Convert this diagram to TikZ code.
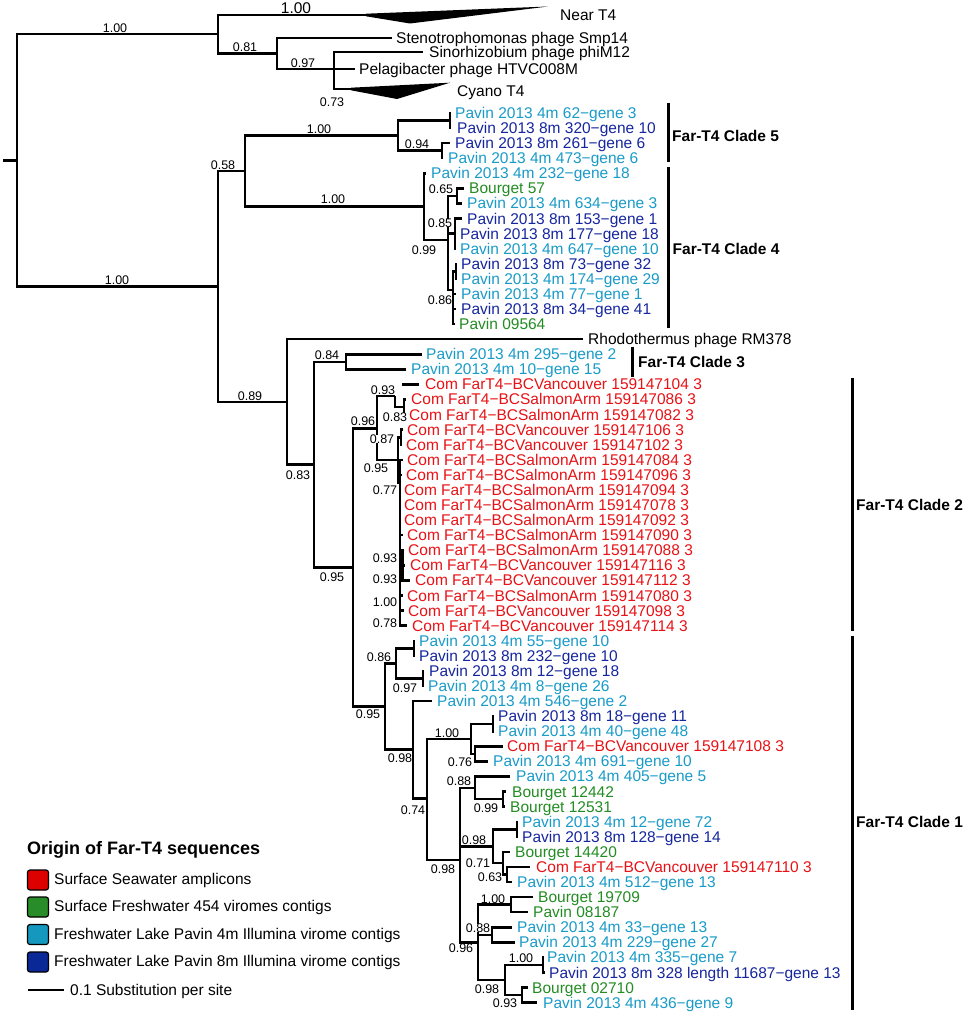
\documentclass[tikz,border=0pt]{standalone}
\usepackage{fontspec}
\setmainfont{Liberation Sans}
\definecolor{cy}{RGB}{25,155,200}
\definecolor{bl}{RGB}{22,38,158}
\definecolor{gr}{RGB}{35,140,35}
\definecolor{rd}{RGB}{232,18,22}
\definecolor{lrd}{RGB}{221,0,0}
\definecolor{lgr}{RGB}{40,140,40}
\definecolor{lcy}{RGB}{20,152,190}
\definecolor{lbl}{RGB}{10,40,150}
\tikzset{
 branch/.style={line width=2.5pt, line join=miter},
 tiplab/.style={anchor=base west, inner sep=0pt, font=\fontsize{15.5}{18}\selectfont},
 sup/.style={inner sep=0pt, fill=white, font=\fontsize{12.5}{14}\selectfont},
 bigsup/.style={inner sep=0pt, font=\fontsize{15.5}{18}\selectfont},
 cladelab/.style={anchor=base west, inner sep=0pt, font=\bfseries\fontsize{15.5}{18}\selectfont},
 cbar/.style={line width=3pt},
 legbox/.style={draw=black, line width=1.2pt, rounded corners=2.5pt, minimum width=21pt, minimum height=20pt, inner sep=0pt},
 legtxt/.style={anchor=base west, inner sep=0pt, font=\fontsize{15.5}{18}\selectfont},
 legtitle/.style={anchor=base west, inner sep=0pt, font=\bfseries\fontsize{18}{21}\selectfont},
}
\newcommand\tipleaf[6]{\coordinate (#1) at (#2,#3);\node[tiplab,text=#5] (#1l) at (#4,#3+5.4) {#6};}
\newcommand\supval[4]{\node[sup] (#1) at (#2,#3) {#4};}
\newcommand\treekids[2]{\foreach \kk in {#2}{\draw[branch] (#1) |- (\kk);}}
\begin{document}
\begin{tikzpicture}[x=1pt,y=-1pt]
\useasboundingbox (0,0) rectangle (964,1014);
\fill[white] (0,0) rectangle (964,1014);
% internal nodes
\coordinate (R0) at (17,160.4);
\coordinate (rs) at (3,160.4);
\coordinate (A) at (218,34.25);
\coordinate (nt) at (366,15);
\coordinate (B) at (277,53.5);
\coordinate (C) at (334,69);
\coordinate (cy0) at (351,89);
\coordinate (P) at (218,286.6);
\coordinate (D) at (245,171.15);
\coordinate (E) at (398,135.6);
\coordinate (F) at (450,120.55);
\coordinate (G) at (442,150.7);
\coordinate (H) at (424,206.7);
\coordinate (I) at (448,240);
\coordinate (J) at (457,196);
\coordinate (K) at (455,233.6);
\coordinate (M) at (453,290);
\coordinate (N) at (456,271.35);
\coordinate (Q) at (287,402);
\coordinate (R) at (314,464.7);
\coordinate (T) at (346,361.85);
\coordinate (S) at (353,567.5);
\coordinate (U) at (377,428.5);
\coordinate (X) at (395,396);
\coordinate (Y) at (404,407.05);
\coordinate (x104) at (402,384.4);
\coordinate (W) at (398,460);
\coordinate (Z) at (401,437.25);
\coordinate (W2) at (400,482.8);
\coordinate (W3) at (402.5,565.4);
\coordinate (V) at (385,706.5);
\coordinate (AA) at (396,663.4);
\coordinate (AB) at (414,648.35);
\coordinate (AC) at (423,678.5);
\coordinate (AD) at (413,749.6);
\coordinate (AE) at (427,798.4);
\coordinate (AF) at (471,738.8);
\coordinate (AG) at (493,723.75);
\coordinate (AH) at (475,753.9);
\coordinate (AI) at (460,860);
\coordinate (AJ) at (475,787.9);
\coordinate (AK) at (503,799.15);
\coordinate (AL) at (493,846.3);
\coordinate (AN) at (517,829.3);
\coordinate (AO) at (503,863.2);
\coordinate (AP) at (507,874.55);
\coordinate (AM) at (478,942.4);
\coordinate (AQ) at (511,904.7);
\coordinate (AR) at (492,934.85);
\coordinate (AS) at (505,980.1);
\coordinate (AT) at (543,965.05);
\coordinate (AU) at (522,995.15);
% tips
\tipleaf{steno}{392}{38}{396}{black}{Stenotrophomonas phage Smp14}
\tipleaf{sino}{423}{52}{429}{black}{Sinorhizobium phage phiM12}
\tipleaf{pelag}{355}{69}{359}{black}{Pelagibacter phage HTVC008M}
\node[tiplab] (nearl) at (560,20.9) {Near T4};
\node[tiplab] (cyanol) at (457,96.1) {Cyano T4};
\tipleaf{t0}{451}{113.0}{455}{cy}{Pavin 2013 4m 62−gene 3}
\tipleaf{t1}{451}{128.1}{457}{bl}{Pavin 2013 8m 320−gene 10}
\tipleaf{t2}{450}{143.2}{455}{bl}{Pavin 2013 8m 261−gene 6}
\tipleaf{t3}{443}{158.2}{448}{cy}{Pavin 2013 4m 473−gene 6}
\tipleaf{t4}{426}{173.3}{431}{cy}{Pavin 2013 4m 232−gene 18}
\tipleaf{t5}{464}{188.4}{469}{gr}{Bourget 57}
\tipleaf{t6}{462}{203.5}{467}{cy}{Pavin 2013 4m 634−gene 3}
\tipleaf{t7}{462}{218.6}{467}{bl}{Pavin 2013 8m 153−gene 1}
\tipleaf{t8}{456}{233.6}{460}{bl}{Pavin 2013 8m 177−gene 18}
\tipleaf{t9}{456}{248.7}{460}{cy}{Pavin 2013 4m 647−gene 10}
\tipleaf{t10}{457}{263.8}{461}{bl}{Pavin 2013 8m 73−gene 32}
\tipleaf{t11}{457}{278.9}{461}{cy}{Pavin 2013 4m 174−gene 29}
\tipleaf{t12}{456}{294.0}{461}{cy}{Pavin 2013 4m 77−gene 1}
\tipleaf{t13}{456}{309.0}{461}{bl}{Pavin 2013 8m 34−gene 41}
\tipleaf{t14}{455}{324.1}{459}{gr}{Pavin 09564}
\tipleaf{t15}{583}{339.2}{588}{black}{Rhodothermus phage RM378}
\tipleaf{t16}{422}{354.3}{426}{cy}{Pavin 2013 4m 295−gene 2}
\tipleaf{t17}{406}{369.4}{411}{cy}{Pavin 2013 4m 10−gene 15}
\tipleaf{t18}{419}{384.4}{425}{rd}{Com FarT4−BCVancouver 159147104 3}
\tipleaf{t19}{406}{399.5}{411}{rd}{Com FarT4−BCSalmonArm 159147086 3}
\tipleaf{t20}{405}{414.6}{409}{rd}{Com FarT4−BCSalmonArm 159147082 3}
\tipleaf{t21}{403}{429.7}{407}{rd}{Com FarT4−BCVancouver 159147106 3}
\tipleaf{t22}{402}{444.8}{406}{rd}{Com FarT4−BCVancouver 159147102 3}
\tipleaf{t23}{403}{459.8}{407}{rd}{Com FarT4−BCSalmonArm 159147084 3}
\tipleaf{t24}{402}{474.9}{406}{rd}{Com FarT4−BCSalmonArm 159147096 3}
\tipleaf{t25}{401}{490.0}{404}{rd}{Com FarT4−BCSalmonArm 159147094 3}
\tipleaf{t26}{401}{505.1}{404}{rd}{Com FarT4−BCSalmonArm 159147078 3}
\tipleaf{t27}{401}{520.2}{404}{rd}{Com FarT4−BCSalmonArm 159147092 3}
\tipleaf{t28}{403}{535.2}{407}{rd}{Com FarT4−BCSalmonArm 159147090 3}
\tipleaf{t29}{404}{550.3}{408}{rd}{Com FarT4−BCSalmonArm 159147088 3}
\tipleaf{t30}{405}{565.4}{410}{rd}{Com FarT4−BCVancouver 159147116 3}
\tipleaf{t31}{410}{580.5}{415}{rd}{Com FarT4−BCVancouver 159147112 3}
\tipleaf{t32}{403}{595.6}{407}{rd}{Com FarT4−BCSalmonArm 159147080 3}
\tipleaf{t33}{404}{610.6}{408}{rd}{Com FarT4−BCVancouver 159147098 3}
\tipleaf{t34}{407}{625.7}{412}{rd}{Com FarT4−BCVancouver 159147114 3}
\tipleaf{t35}{415}{640.8}{419}{cy}{Pavin 2013 4m 55−gene 10}
\tipleaf{t36}{415}{655.9}{419}{bl}{Pavin 2013 8m 232−gene 10}
\tipleaf{t37}{424}{671.0}{429}{bl}{Pavin 2013 8m 12−gene 18}
\tipleaf{t38}{424}{686.0}{428}{cy}{Pavin 2013 4m 8−gene 26}
\tipleaf{t39}{432}{701.1}{437}{cy}{Pavin 2013 4m 546−gene 2}
\tipleaf{t40}{494}{716.2}{498}{bl}{Pavin 2013 8m 18−gene 11}
\tipleaf{t41}{494}{731.3}{498}{cy}{Pavin 2013 4m 40−gene 48}
\tipleaf{t42}{503}{746.4}{507}{rd}{Com FarT4−BCVancouver 159147108 3}
\tipleaf{t43}{488}{761.4}{493}{cy}{Pavin 2013 4m 691−gene 10}
\tipleaf{t44}{510}{776.5}{516}{cy}{Pavin 2013 4m 405−gene 5}
\tipleaf{t45}{506}{791.6}{512}{gr}{Bourget 12442}
\tipleaf{t46}{505}{806.7}{510}{gr}{Bourget 12531}
\tipleaf{t47}{518}{821.8}{522}{cy}{Pavin 2013 4m 12−gene 72}
\tipleaf{t48}{518}{836.8}{522}{bl}{Pavin 2013 8m 128−gene 14}
\tipleaf{t49}{510}{851.9}{515}{gr}{Bourget 14420}
\tipleaf{t50}{530}{867.0}{536}{rd}{Com FarT4−BCVancouver 159147110 3}
\tipleaf{t51}{512}{882.1}{517}{cy}{Pavin 2013 4m 512−gene 13}
\tipleaf{t52}{533}{897.2}{538}{gr}{Bourget 19709}
\tipleaf{t53}{528}{912.2}{533}{gr}{Pavin 08187}
\tipleaf{t54}{512}{927.3}{517}{cy}{Pavin 2013 4m 33−gene 13}
\tipleaf{t55}{515}{942.4}{519}{cy}{Pavin 2013 4m 229−gene 27}
\tipleaf{t56}{544}{957.5}{547}{cy}{Pavin 2013 4m 335−gene 7}
\tipleaf{t57}{545}{972.6}{549}{bl}{Pavin 2013 8m 328 length 11687−gene 13}
\tipleaf{t58}{528}{987.6}{532}{gr}{Bourget 02710}
\tipleaf{t59}{537}{1002.7}{543}{cy}{Pavin 2013 4m 436−gene 9}
% branches
\draw[branch] (rs) -- (R0);
\treekids{R0}{A,P}
\treekids{A}{nt,B}
\treekids{B}{steno,C}
\treekids{C}{sino,pelag,cy0}
\fill (366,13.7) -- (548,6.5) -- (410,23.5) -- (366,16.3) -- cycle;
\fill (351,87.7) -- (450,82.7) -- (397,99) -- (351,90.3) -- cycle;
\treekids{P}{D,Q}
\treekids{D}{E,H}
\treekids{E}{F,G}
\treekids{F}{t0,t1}
\treekids{G}{t2,t3}
\treekids{H}{t4,I}
\treekids{I}{J,K,M}
\treekids{J}{t5,t6}
\treekids{K}{t7,t8,t9}
\treekids{M}{N,t12,t13,t14}
\treekids{N}{t10,t11}
\treekids{Q}{t15,R}
\treekids{R}{T,S}
\treekids{T}{t16,t17}
\treekids{S}{U,V}
\treekids{U}{X,W}
\treekids{X}{Y}
\draw[branch] (x104) -- (t18);
\treekids{Y}{t19,t20}
\treekids{W}{Z,W2}
\treekids{Z}{t21,t22}
\treekids{W2}{t23,t24,t25,t26,t27,t28,W3,t32,t33,t34}
\treekids{W3}{t29,t30,t31}
\treekids{V}{AA,AD}
\treekids{AA}{AB,AC}
\treekids{AB}{t35,t36}
\treekids{AC}{t37,t38}
\treekids{AD}{t39,AE}
\treekids{AE}{AF,AI}
\treekids{AF}{AG,AH}
\treekids{AG}{t40,t41}
\treekids{AH}{t42,t43}
\treekids{AI}{AJ,AL,AM}
\treekids{AJ}{t44,AK}
\treekids{AK}{t45,t46}
\treekids{AL}{AN,AO}
\treekids{AN}{t47,t48}
\treekids{AO}{t49,AP}
\treekids{AP}{t50,t51}
\treekids{AM}{AQ,AR,AS}
\treekids{AQ}{t52,t53}
\treekids{AR}{t54,t55}
\treekids{AS}{AT,AU}
\treekids{AT}{t56,t57}
\treekids{AU}{t58,t59}
% support values
\supval{s1}{115}{28}{1.00}
\node[bigsup] (s2) at (296,8) {1.00};
\supval{s3}{245}{47.5}{0.81}
\supval{s4}{303}{63.5}{0.97}
\supval{s5}{332}{102}{0.73}
\supval{s6}{319}{129.5}{1.00}
\supval{s7}{417}{144.5}{0.94}
\supval{s8}{223}{165}{0.58}
\supval{s9}{333}{199}{1.00}
\supval{s10}{441}{189.5}{0.65}
\supval{s11}{440}{223}{0.85}
\supval{s12}{424}{250}{0.99}
\supval{s13}{440}{300}{0.86}
\supval{s14}{117}{280}{1.00}
\supval{s15}{250}{396}{0.89}
\supval{s16}{298}{475}{0.83}
\supval{s17}{327}{355.5}{0.84}
\supval{s18}{383}{390}{0.93}
\supval{s19}{395}{417.5}{0.83}
\supval{s20}{363}{421.5}{0.96}
\supval{s21}{382}{439}{0.87}
\supval{s22}{376}{468}{0.95}
\supval{s23}{385}{490}{0.77}
\supval{s24}{385}{558}{0.93}
\supval{s25}{385}{579}{0.93}
\supval{s26}{385}{602}{1.00}
\supval{s27}{385}{623}{0.78}
\supval{s28}{332}{577}{0.95}
\supval{s29}{379}{657.5}{0.86}
\supval{s30}{405}{688}{0.97}
\supval{s31}{368}{714}{0.95}
\supval{s32}{400}{758}{0.98}
\supval{s33}{447}{733}{1.00}
\supval{s34}{460}{762}{0.76}
\supval{s35}{413}{810}{0.74}
\supval{s36}{459}{781.5}{0.88}
\supval{s37}{486}{808}{0.99}
\supval{s38}{474}{840}{0.98}
\supval{s39}{443}{869}{0.98}
\supval{s40}{478}{863}{0.71}
\supval{s41}{490}{877}{0.63}
\supval{s42}{493}{899}{1.00}
\supval{s43}{478}{928}{0.88}
\supval{s44}{461}{948}{0.96}
\supval{s45}{521}{958}{1.00}
\supval{s46}{487}{989}{0.98}
\supval{s47}{505}{1003}{0.93}
% clade bars
\coordinate (c5a) at (668,103); \coordinate (c5b) at (668,162);
\coordinate (c4a) at (668,167); \coordinate (c4b) at (668,328);
\coordinate (c3a) at (632,347); \coordinate (c3b) at (632,377);
\coordinate (c2a) at (852,378); \coordinate (c2b) at (852,631);
\coordinate (c1a) at (852,636); \coordinate (c1b) at (852,1010);
\draw[cbar] (c5a) -- (c5b);
\draw[cbar] (c4a) -- (c4b);
\draw[cbar] (c3a) -- (c3b);
\draw[cbar] (c2a) -- (c2b);
\draw[cbar] (c1a) -- (c1b);
\node[cladelab] (c5l) at (672,141.1) {Far-T4 Clade 5};
\node[cladelab] (c4l) at (672.5,254.2) {Far-T4 Clade 4};
\node[cladelab] (c3l) at (638,367.3) {Far-T4 Clade 3};
\node[cladelab] (c2l) at (856,510.5) {Far-T4 Clade 2};
\node[cladelab] (c1l) at (856,827.5) {Far-T4 Clade 1};
% legend
\node[legtitle] (lt) at (27,854.4) {Origin of Far-T4 sequences};
\node[legbox, fill=lrd] (k1) at (38,880) {};
\node[legbox, fill=lgr] (k2) at (38,907) {};
\node[legbox, fill=lcy] (k3) at (38,934.5) {};
\node[legbox, fill=lbl] (k4) at (38,962) {};
\node[legtxt] (k1t) at (54,884.8) {Surface Seawater amplicons};
\node[legtxt] (k2t) at (54,911.8) {Surface Freshwater 454 viromes contigs};
\node[legtxt] (k3t) at (54,939) {Freshwater Lake Pavin 4m Illumina virome contigs};
\node[legtxt] (k4t) at (54,966.5) {Freshwater Lake Pavin 8m Illumina virome contigs};
\coordinate (sb1) at (28,990); \coordinate (sb2) at (64,990);
\draw[line width=1.5pt] (sb1) -- (sb2);
\node[legtxt] (sbt) at (70,995.5) {0.1 Substitution per site};
\end{tikzpicture}
\end{document}
